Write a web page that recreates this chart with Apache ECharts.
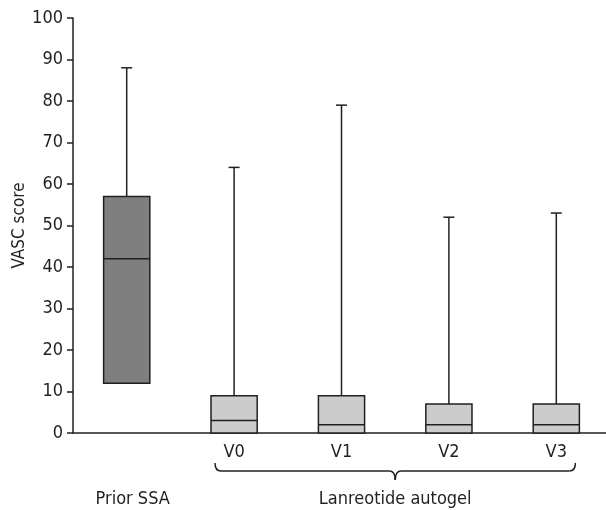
<!DOCTYPE html>
<html lang="en">

<head>
    <meta charset="UTF-8">
    <title>VASC score</title>
    <script src="https://cdn.jsdelivr.net/npm/echarts@6/dist/echarts.min.js"></script>
</head>

<body style="margin:0">
    <div id="main" style="width: 606px;height:510px;"></div>
    <script type="text/javascript">
        // categories and box statistics
        var categories = ['Prior SSA', 'V0', 'V1', 'V2', 'V3'];
        var minVals = [12, 0, 0, 0, 0];
        var q1Vals = [12, 0, 0, 0, 0];
        var medianVals = [42, 3, 2, 2, 2];
        var q3Vals = [57, 9, 9, 7, 7];
        var maxVals = [88, 64, 79, 52, 53];
        var yTicks = [0, 10, 20, 30, 40, 50, 60, 70, 80, 90, 100];
        var groupLabel = 'Lanreotide autogel';

        var FONT = '"DejaVu Sans Condensed", "Liberation Sans", sans-serif';
        var INK = '#231f20';

        var myChart = echarts.init(document.getElementById('main'));

        var boxData = [];
        for (var i = 0; i < categories.length; i++) {
            boxData.push([i, minVals[i], q1Vals[i], medianVals[i], q3Vals[i], maxVals[i]]);
        }

        function renderBox(params, api) {
            var x = api.value(0);
            var lo = api.coord([x, api.value(1)]);
            var q1 = api.coord([x, api.value(2)]);
            var med = api.coord([x, api.value(3)]);
            var q3 = api.coord([x, api.value(4)]);
            var hi = api.coord([x, api.value(5)]);
            var bw = api.size([1, 0])[0] * 0.43;
            var cap = 11;
            var cx = q1[0];
            var lineStyle = { stroke: INK, lineWidth: 1.5 };
            var kids = [
                { type: 'line', shape: { x1: cx, y1: q3[1], x2: cx, y2: hi[1] }, style: lineStyle },
                { type: 'line', shape: { x1: cx - cap / 2, y1: hi[1], x2: cx + cap / 2, y2: hi[1] }, style: lineStyle }
            ];
            if (api.value(1) < api.value(2)) {
                kids.push({ type: 'line', shape: { x1: cx, y1: q1[1], x2: cx, y2: lo[1] }, style: lineStyle });
                kids.push({ type: 'line', shape: { x1: cx - cap / 2, y1: lo[1], x2: cx + cap / 2, y2: lo[1] }, style: lineStyle });
            }
            kids.push({
                type: 'rect',
                shape: { x: cx - bw / 2, y: q3[1], width: bw, height: q1[1] - q3[1] },
                style: { fill: params.dataIndex === 0 ? '#7f7f7f' : '#cccccc', stroke: INK, lineWidth: 1.5 }
            });
            kids.push({ type: 'line', shape: { x1: cx - bw / 2, y1: med[1], x2: cx + bw / 2, y2: med[1] }, style: lineStyle });
            return { type: 'group', children: kids };
        }

        var option = {
            animation: false,
            backgroundColor: '#fff',
            grid: { left: 73, top: 18, bottom: 77, width: 537, outerBoundsMode: 'none' },
            xAxis: {
                type: 'category',
                data: categories,
                axisLine: { lineStyle: { color: INK, width: 1.5 } },
                axisTick: { show: false },
                axisLabel: {
                    interval: 0,
                    margin: 10,
                    color: INK,
                    fontSize: 18,
                    fontFamily: FONT,
                    formatter: function (v, idx) {
                        return idx === 0 ? '{low|' + v + '}' : v;
                    },
                    rich: {
                        low: { padding: [47, 0, 0, 12], fontSize: 18, fontFamily: FONT, color: INK }
                    }
                }
            },
            yAxis: {
                type: 'value',
                min: yTicks[0],
                max: yTicks[yTicks.length - 1],
                interval: 10,
                name: 'VASC score',
                nameLocation: 'middle',
                nameGap: 45,
                nameMoveOverlap: false,
                nameTextStyle: { fontSize: 17, fontFamily: FONT, color: INK },
                axisLine: { show: true, lineStyle: { color: INK, width: 1.5 } },
                axisTick: { show: true, length: 6, lineStyle: { color: INK, width: 1.5 } },
                splitLine: { show: false },
                axisLabel: { margin: 10, color: INK, fontSize: 18, fontFamily: FONT }
            },
            series: [{
                type: 'custom',
                renderItem: renderBox,
                encode: { x: 0, y: [1, 2, 3, 4, 5] },
                data: boxData,
                z: 3
            }]
        };

        myChart.setOption(option);

        // brace under the Lanreotide autogel group, placed from the axis scale
        var first = myChart.convertToPixel({ xAxisIndex: 0 }, categories[1]);
        var last = myChart.convertToPixel({ xAxisIndex: 0 }, categories[categories.length - 1]);
        var zero = myChart.convertToPixel({ yAxisIndex: 0 }, 0);
        var band = last - myChart.convertToPixel({ xAxisIndex: 0 }, categories[categories.length - 2]);
        var x0 = first - band * 0.215 + 4;
        var x1 = last + band * 0.215 - 4;
        var mid = (x0 + x1) / 2;
        var yTop = zero + 30, yBar = zero + 38, yTip = zero + 47;
        var r = 6;
        var braceStyle = { fill: null, stroke: INK, lineWidth: 1.5 };

        myChart.setOption({
            graphic: [
                { type: 'bezierCurve', shape: { x1: x0, y1: yTop, cpx1: x0, cpy1: yBar, x2: x0 + r, y2: yBar }, style: braceStyle },
                { type: 'line', shape: { x1: x0 + r, y1: yBar, x2: mid - r, y2: yBar }, style: braceStyle },
                { type: 'bezierCurve', shape: { x1: mid - r, y1: yBar, cpx1: mid, cpy1: yBar, x2: mid, y2: yTip }, style: braceStyle },
                { type: 'bezierCurve', shape: { x1: mid + r, y1: yBar, cpx1: mid, cpy1: yBar, x2: mid, y2: yTip }, style: braceStyle },
                { type: 'line', shape: { x1: mid + r, y1: yBar, x2: x1 - r, y2: yBar }, style: braceStyle },
                { type: 'bezierCurve', shape: { x1: x1, y1: yTop, cpx1: x1, cpy1: yBar, x2: x1 - r, y2: yBar }, style: braceStyle },
                {
                    type: 'text',
                    x: mid,
                    y: zero + 66,
                    style: {
                        text: groupLabel,
                        fontSize: 18,
                        fontFamily: FONT,
                        fill: INK,
                        align: 'center',
                        verticalAlign: 'middle'
                    }
                }
            ]
        });
    </script>
</body>

</html>
